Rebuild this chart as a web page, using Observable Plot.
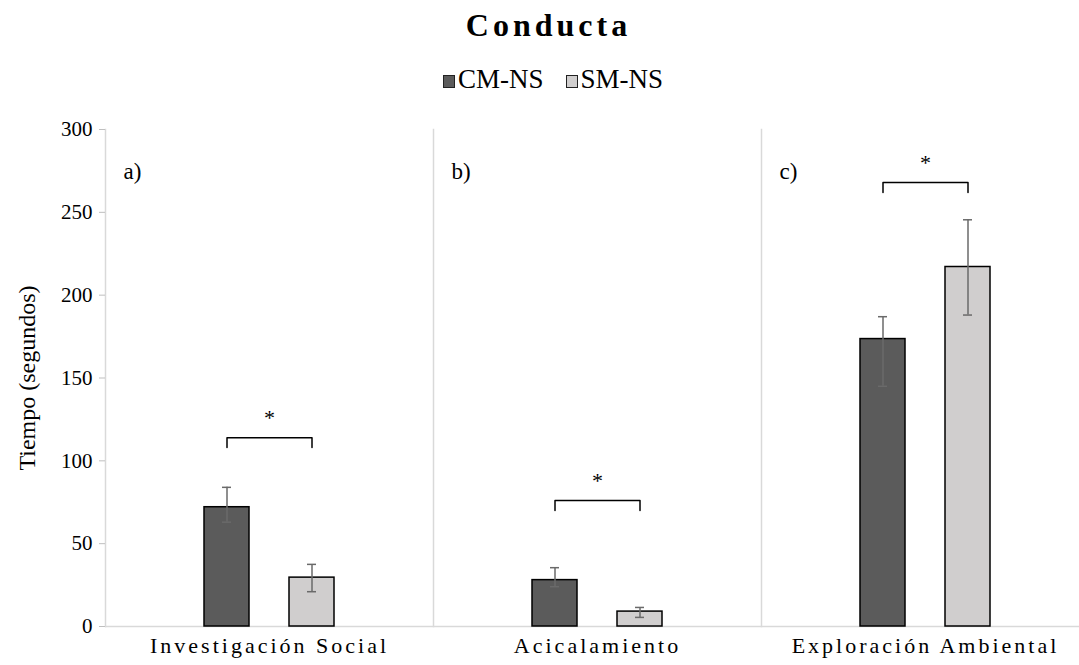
<!DOCTYPE html>
<html><head><meta charset="utf-8">
<script src="https://cdn.jsdelivr.net/npm/d3@7"></script>
<script src="https://cdn.jsdelivr.net/npm/@observablehq/plot@0.6"></script>
<style>
html,body{margin:0;padding:0;background:#fff;overflow:hidden;}
#wrap{width:1079px;height:665px;font-family:"Liberation Serif",serif;color:#000;}
#title{height:50px;line-height:50px;text-align:center;font-weight:bold;font-size:32px;letter-spacing:4px;padding-left:18px;}
#legend{height:46px;padding-top:4px;padding-left:27px;line-height:50px;text-align:center;font-size:27px;font-family:"Liberation Serif",serif;white-space:nowrap;}
.item{display:inline-block;margin:0 11px;}
.sw{display:inline-block;width:10px;height:11px;border:1px solid #222;margin-right:3px;vertical-align:baseline;}
#chart svg{display:block;overflow:hidden;}
#chart svg, #chart svg text{font-family:"Liberation Serif",serif !important;}
</style></head>
<body><div id="wrap"><div id="title">Conducta</div><div id="legend"></div><div id="chart"></div></div>
<script>
const categories = ["Investigación Social", "Acicalamiento", "Exploración Ambiental"];
const series = ["CM-NS", "SM-NS"];
const cmMeans = [72, 28, 173.5];
const cmLow = [63, 24, 145];
const cmHigh = [84, 35.5, 187];
const smMeans = [29.5, 9, 217];
const smLow = [21, 5.5, 188];
const smHigh = [37.5, 11.5, 245.5];
const bracketLevels = [114, 76, 268];
const significance = ["*", "*", "*"];
const panelLabels = ["a)", "b)", "c)"];
const yTicks = [0, 50, 100, 150, 200, 250, 300];
const colors = ["#5b5b5b", "#d0cece"];

const rows = categories.flatMap((c, i) => [
  {cat: c, series: series[0], mean: cmMeans[i], lo: cmLow[i], hi: cmHigh[i]},
  {cat: c, series: series[1], mean: smMeans[i], lo: smLow[i], hi: smHigh[i]}
]);
const drop = 6;
const bracketPts = categories.flatMap((c, i) => [
  {cat: c, series: series[0], y: bracketLevels[i] - drop},
  {cat: c, series: series[0], y: bracketLevels[i]},
  {cat: c, series: series[1], y: bracketLevels[i]},
  {cat: c, series: series[1], y: bracketLevels[i] - drop}
]);

// legend
const leg = document.getElementById("legend");
series.forEach((s, i) => {
  const it = document.createElement("span"); it.className = "item";
  const sw = document.createElement("span"); sw.className = "sw"; sw.style.background = colors[i];
  const tx = document.createElement("span"); tx.textContent = s;
  it.appendChild(sw); it.appendChild(tx); leg.appendChild(it);
});

const chart = Plot.plot({
  width: 1079, height: 565,
  marginLeft: 105, marginRight: -10, marginTop: 29, marginBottom: 39,
  style: {fontFamily: "Liberation Serif", fontSize: "20px", color: "#000", background: "#fff"},
  fx: {domain: categories, padding: 0, axis: null},
  x: {domain: series, paddingInner: 0.465, paddingOuter: 1.14, axis: null},
  y: {domain: [0, 300], axis: null},
  color: {domain: series, range: colors},
  marks: [
    Plot.frame({anchor: "left", stroke: "#d9d9d9", strokeWidth: 1.5}),
    Plot.ruleY([0], {stroke: "#d9d9d9", strokeWidth: 1.5}),
    Plot.axisY({ticks: yTicks, tickSize: 6, tickPadding: 7, stroke: "#bfbfbf", fontSize: 21,
      label: "Tiempo (segundos)", labelAnchor: "center", labelOffset: 88, labelArrow: "none"}),
    Plot.barY(rows, {fx: "cat", x: "series", y: "mean", fill: "series", stroke: "#000", strokeWidth: 1.5}),
    Plot.ruleX(rows, {fx: "cat", x: "series", y1: "lo", y2: "hi", stroke: "#6a6a6a", strokeWidth: 1.5}),
    Plot.tickY(rows, {fx: "cat", x: "series", y: "hi", stroke: "#6a6a6a", strokeWidth: 1.5, insetLeft: 18, insetRight: 18}),
    Plot.tickY(rows, {fx: "cat", x: "series", y: "lo", stroke: "#6a6a6a", strokeWidth: 1.5, insetLeft: 18, insetRight: 18}),
    Plot.line(bracketPts, {fx: "cat", x: "series", y: "y", stroke: "#000", strokeWidth: 1.5}),
    Plot.text(categories, {fx: d => d, y: (d, i) => bracketLevels[i] + 12, text: (d, i) => significance[i], fontSize: 22}),
    Plot.text(categories, {fx: d => d, text: (d, i) => panelLabels[i], frameAnchor: "top-left", dx: 18, dy: 33, textAnchor: "start", fontSize: 23}),
    Plot.text(categories, {fx: d => d, text: d => d, frameAnchor: "bottom", dy: 26, fontSize: 22})
  ]
});
d3.select(chart).selectAll("text").filter(function() { return categories.includes(this.textContent); })
  .style("letter-spacing", "3px");
d3.select(chart).selectAll("text").filter(function() { return this.textContent === "Tiempo (segundos)"; })
  .style("font-size", "24px");
document.getElementById("chart").appendChild(chart);
</script></body></html>
